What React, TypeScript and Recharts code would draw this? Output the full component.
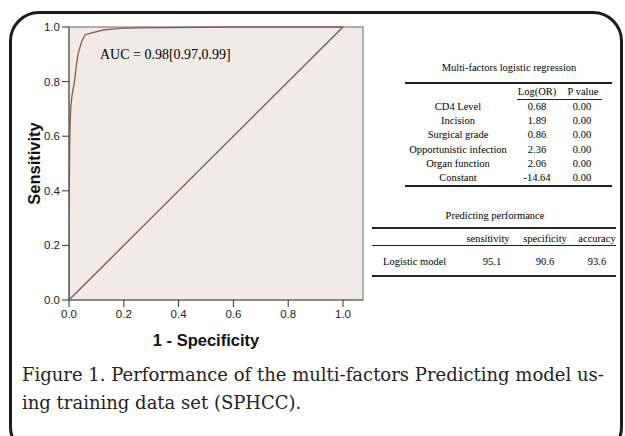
import { LineChart, Line, XAxis, YAxis, ReferenceArea, Label } from "recharts";

// ROC curve
const rocX = [0, 0, 0.003, 0.006, 0.011, 0.02, 0.028, 0.034, 0.046, 0.058, 0.077, 0.124, 0.186, 0.25, 0.58, 1.0];
const rocY = [0, 0.3, 0.6, 0.7, 0.75, 0.8, 0.868, 0.905, 0.946, 0.971, 0.977, 0.989, 0.995, 0.997, 1.0, 1.0];
const diagX = [0, 1];
const diagY = [0, 1];
const axisTicks = [0, 0.2, 0.4, 0.6, 0.8, 1.0];
const aucText = "AUC = 0.98[0.97,0.99]";

const regFactors = ["CD4 Level", "Incision", "Surgical grade", "Opportunistic infection", "Organ function", "Constant"];
const regLogOR = ["0.68", "1.89", "0.86", "2.36", "2.06", "-14.64"];
const regPValue = ["0.00", "0.00", "0.00", "0.00", "0.00", "0.00"];

const perfHeaders = ["sensitivity", "specificity", "accuracy"];
const perfModel = "Logistic model";
const perfValues = ["95.1", "90.6", "93.6"];

const captionLines = [
  "Figure 1. Performance of the multi-factors Predicting model us-",
  "ing training data set (SPHCC).",
];

const rocData = rocX.map((x, i) => ({ x, y: rocY[i] }));
const diagData = diagX.map((x, i) => ({ x, y: diagY[i] }));

const serif = "'Liberation Serif', 'Times New Roman', serif";
const sans = "'Liberation Sans', Arial, sans-serif";
const tickStyle = { fontFamily: sans, fontSize: 11.5, fill: "#222" };

function Txt({ x, y, children, anchor = "middle", size = 10.5 }: any) {
  const tx = anchor === "middle" ? "-50%" : anchor === "end" ? "-100%" : "0";
  return (
    <div
      style={{
        position: "absolute",
        left: x,
        top: y,
        transform: `translate(${tx}, -50%)`,
        fontFamily: serif,
        fontSize: size,
        color: "#000",
        whiteSpace: "nowrap",
        lineHeight: 1,
      }}
    >
      {children}
    </div>
  );
}

function Rule({ x1, x2, y, w = 1 }: any) {
  return <div style={{ position: "absolute", left: x1, top: y, width: x2 - x1, height: w, background: "#222" }} />;
}

export default function App() {
  return (
    <div style={{ position: "absolute", left: 0, top: 0, width: 625, height: 436, overflow: "hidden", background: "#fff" }}>
      <div
        style={{
          position: "absolute",
          left: 9,
          top: 11,
          width: 608,
          height: 440,
          border: "3px solid #1c1c1c",
          borderRadius: 30,
        }}
      />
      <div style={{ position: "absolute", left: 0, top: 0 }}>
        <LineChart width={380} height={380} margin={{ top: 27, right: 17, left: 0, bottom: 0 }}>
          <XAxis
            type="number"
            dataKey="x"
            domain={[0, 1.073]}
            ticks={axisTicks}
            allowDataOverflow
            tickFormatter={(v: number) => v.toFixed(1)}
            tick={tickStyle}
            tickSize={7}
            tickMargin={3}
            height={80}
            axisLine={{ stroke: "#8a8a8a", strokeWidth: 2 }}
            tickLine={{ stroke: "#333" }}
          >
            <Label
              value="1 - Specificity"
              position="center"
              dx={-10}
              style={{ fontFamily: sans, fontSize: 16.5, fontWeight: 700, fill: "#111" }}
            />
          </XAxis>
          <YAxis
            type="number"
            dataKey="y"
            domain={[0, 1]}
            ticks={axisTicks}
            tickFormatter={(v: number) => v.toFixed(1)}
            tick={tickStyle}
            tickSize={7}
            width={69}
            axisLine={{ stroke: "#555" }}
            tickLine={{ stroke: "#333" }}
          >
            <Label
              value="Sensitivity"
              position="center"
              angle={-90}
              style={{ fontFamily: sans, fontSize: 16.5, fontWeight: 700, fill: "#111" }}
            />
          </YAxis>
          <ReferenceArea
            x1={0}
            x2={1.073}
            y1={0}
            y2={1}
            fill="#f2eae7"
            fillOpacity={1}
            stroke="#999"
            strokeOpacity={1}
            strokeWidth={1.5}
          />
          <Line data={diagData} dataKey="y" stroke="#7d5548" strokeWidth={1.3} dot={false} isAnimationActive={false} />
          <Line data={rocData} dataKey="y" stroke="#8c5a4b" strokeWidth={1.3} dot={false} isAnimationActive={false} />
        </LineChart>
      </div>

      <Txt x={100} y={55} anchor="start" size={14}>{aucText}</Txt>

      <Txt x={509} y={68}>Multi-factors logistic regression</Txt>
      <Rule x1={405} x2={612} y={82} w={2} />
      <Txt x={537} y={92}>Log(OR)</Txt>
      <Txt x={583} y={92}>P value</Txt>
      <Rule x1={517} x2={602} y={99} />
      {regFactors.map((f, i) => (
        <div key={f}>
          <Txt x={458} y={107 + i * 14.2}>{f}</Txt>
          <Txt x={537} y={107 + i * 14.2}>{regLogOR[i]}</Txt>
          <Txt x={582} y={107 + i * 14.2}>{regPValue[i]}</Txt>
        </div>
      ))}
      <Rule x1={405} x2={612} y={185} w={2} />

      <Txt x={495} y={216}>Predicting performance</Txt>
      <Rule x1={372} x2={616} y={227} w={2} />
      {perfHeaders.map((h, i) => (
        <Txt key={h} x={[488, 545, 597][i]} y={239}>{h}</Txt>
      ))}
      <Rule x1={372} x2={616} y={245} />
      <Txt x={383} y={262} anchor="start">{perfModel}</Txt>
      {perfValues.map((v, i) => (
        <Txt key={i} x={[492, 545, 597][i]} y={262}>{v}</Txt>
      ))}
      <Rule x1={372} x2={616} y={275} w={2} />

      {captionLines.map((line, i) => (
        <div
          key={i}
          style={{
            position: "absolute",
            left: 22,
            top: 365 + i * 28,
            fontFamily: "'DejaVu Serif', serif",
            fontSize: 18,
            color: "#222",
            whiteSpace: "nowrap",
            lineHeight: "20px",
          }}
        >
          {line}
        </div>
      ))}
    </div>
  );
}
